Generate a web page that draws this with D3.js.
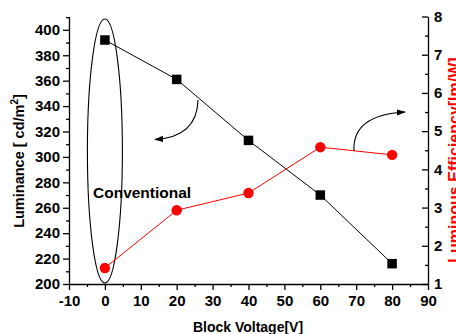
<!DOCTYPE html>
<html>
<head>
<meta charset="utf-8">
<script src="https://cdn.jsdelivr.net/npm/d3@7"></script>
<style>
  html, body { margin: 0; padding: 0; background: #fff; }
  svg { display: block; }
  text { font-family: Arial, "Liberation Sans", sans-serif; font-weight: bold; }
</style>
</head>
<body>
<svg id="chart" width="456" height="334"></svg>
<script>
// ---- data ----
const voltages = [0, 20, 40, 60, 80];
const luminance = [392, 361, 313, 270, 216];
const efficiency = [1.42, 2.93, 3.38, 4.58, 4.38];
const xTicks = [-10, 0, 10, 20, 30, 40, 50, 60, 70, 80, 90];
const xMinorTicks = [-5, 5, 15, 25, 35, 45, 55, 65, 75, 85];
const yLeftTicks = [200, 220, 240, 260, 280, 300, 320, 340, 360, 380, 400];
const yLeftMinorTicks = [210, 230, 250, 270, 290, 310, 330, 350, 370, 390, 410];
const yRightTicks = [1, 2, 3, 4, 5, 6, 7, 8];
const yRightMinorTicks = [1.5, 2.5, 3.5, 4.5, 5.5, 6.5, 7.5];
const xLabel = "Block Voltage[V]";
const yLeftLabel = "Luminance [ cd/m";
const yRightLabel = "Luminous Efficiency[lm/W]";
const annotation = "Conventional";

// ---- layout ----
const svg = d3.select("#chart");
const mLeft = 69, mRight = 428, mTop = 16.5, mBottom = 284;

const x = d3.scaleLinear().domain([-10, 90]).range([mLeft, mRight]);
const yL = d3.scaleLinear().domain([200, 410.5]).range([mBottom, mTop]);
const yR = d3.scaleLinear().domain([1, 8]).range([mBottom, mTop]);
const fmt = d => String(d);

svg.append("defs").append("marker")
  .attr("id", "arrow").attr("viewBox", "0 0 10 10")
  .attr("refX", 9).attr("refY", 5)
  .attr("markerWidth", 9).attr("markerHeight", 9)
  .attr("markerUnits", "userSpaceOnUse")
  .attr("orient", "auto")
  .append("path").attr("d", "M0,1.5 L10,5 L0,8.5 Z").attr("fill", "#000");

function styleAxis(g) {
  g.selectAll("path, line").attr("stroke", "#000").attr("stroke-width", 1.3);
  g.selectAll("text").attr("font-size", 15).attr("fill", "#000")
    .attr("font-family", "Arial, 'Liberation Sans', sans-serif").attr("font-weight", "bold");
}

// bottom axis
svg.append("g").attr("transform", `translate(0,${mBottom})`)
  .call(d3.axisBottom(x).tickValues(xTicks).tickSize(6).tickSizeOuter(0).tickPadding(5).tickFormat(fmt))
  .call(styleAxis);
svg.append("g").attr("transform", `translate(0,${mBottom})`)
  .call(d3.axisBottom(x).tickValues(xMinorTicks).tickSize(3).tickFormat(""))
  .call(g => g.select(".domain").remove()).call(styleAxis);

// left axis
svg.append("g").attr("transform", `translate(${mLeft},0)`)
  .call(d3.axisLeft(yL).tickValues(yLeftTicks).tickSize(6).tickSizeOuter(0).tickPadding(3).tickFormat(fmt))
  .call(styleAxis);
svg.append("g").attr("transform", `translate(${mLeft},0)`)
  .call(d3.axisLeft(yL).tickValues(yLeftMinorTicks).tickSize(3).tickFormat(""))
  .call(g => g.select(".domain").remove()).call(styleAxis);

// right axis (ticks inward)
svg.append("g").attr("transform", `translate(${mRight},0)`)
  .call(d3.axisRight(yR).tickValues(yRightTicks).tickSizeInner(-6).tickSizeOuter(0).tickPadding(6).tickFormat(fmt))
  .call(styleAxis);
svg.append("g").attr("transform", `translate(${mRight},0)`)
  .call(d3.axisRight(yR).tickValues(yRightMinorTicks).tickSizeInner(-3).tickSizeOuter(0).tickFormat(""))
  .call(g => g.select(".domain").remove()).call(styleAxis);

// axis labels
svg.append("text").attr("x", 248).attr("y", 332).attr("text-anchor", "middle")
  .attr("font-size", 14).attr("fill", "#000").text(xLabel);

const ly = svg.append("text").attr("transform", "translate(24,161) rotate(-90)")
  .attr("text-anchor", "middle").attr("font-size", 14.5).attr("fill", "#000");
ly.append("tspan").text(yLeftLabel);
ly.append("tspan").attr("dy", -6).attr("font-size", 10).text("2");
ly.append("tspan").attr("dy", 6).text("]");

svg.append("text").attr("transform", "translate(460,160) rotate(-90)")
  .attr("text-anchor", "middle").attr("font-size", 16).attr("fill", "#ff0000").text(yRightLabel);

// ellipse around conventional points
svg.append("ellipse").attr("cx", x(0)).attr("cy", 151).attr("rx", 17.5).attr("ry", 132)
  .attr("fill", "none").attr("stroke", "#000").attr("stroke-width", 1.1);

svg.append("text").attr("x", 93).attr("y", 197.5).attr("font-size", 15.5).attr("fill", "#000").text(annotation);

// luminance line (black squares)
const lumPts = voltages.map((v, i) => [v, luminance[i]]);
svg.append("path").datum(lumPts)
  .attr("d", d3.line().x(d => x(d[0])).y(d => yL(d[1])))
  .attr("fill", "none").attr("stroke", "#000").attr("stroke-width", 1);
svg.selectAll("rect.sq").data(lumPts).join("rect").attr("class", "sq")
  .attr("x", d => x(d[0]) - 4.75).attr("y", d => yL(d[1]) - 4.75)
  .attr("width", 9.5).attr("height", 9.5).attr("fill", "#000");

// efficiency line (red circles)
const effPts = voltages.map((v, i) => [v, efficiency[i]]);
svg.append("path").datum(effPts)
  .attr("d", d3.line().x(d => x(d[0])).y(d => yR(d[1])))
  .attr("fill", "none").attr("stroke", "#ff0000").attr("stroke-width", 1);
svg.selectAll("circle.dot").data(effPts).join("circle").attr("class", "dot")
  .attr("cx", d => x(d[0])).attr("cy", d => yR(d[1])).attr("r", 5.2).attr("fill", "#ff0000");

// curved arrows
svg.append("path").attr("d", "M198,100 Q197,137 155,139.5")
  .attr("fill", "none").attr("stroke", "#000").attr("stroke-width", 1.1).attr("marker-end", "url(#arrow)");
svg.append("path").attr("d", "M354,151 Q352,115 405,112")
  .attr("fill", "none").attr("stroke", "#000").attr("stroke-width", 1.1).attr("marker-end", "url(#arrow)");
</script>
</body>
</html>
